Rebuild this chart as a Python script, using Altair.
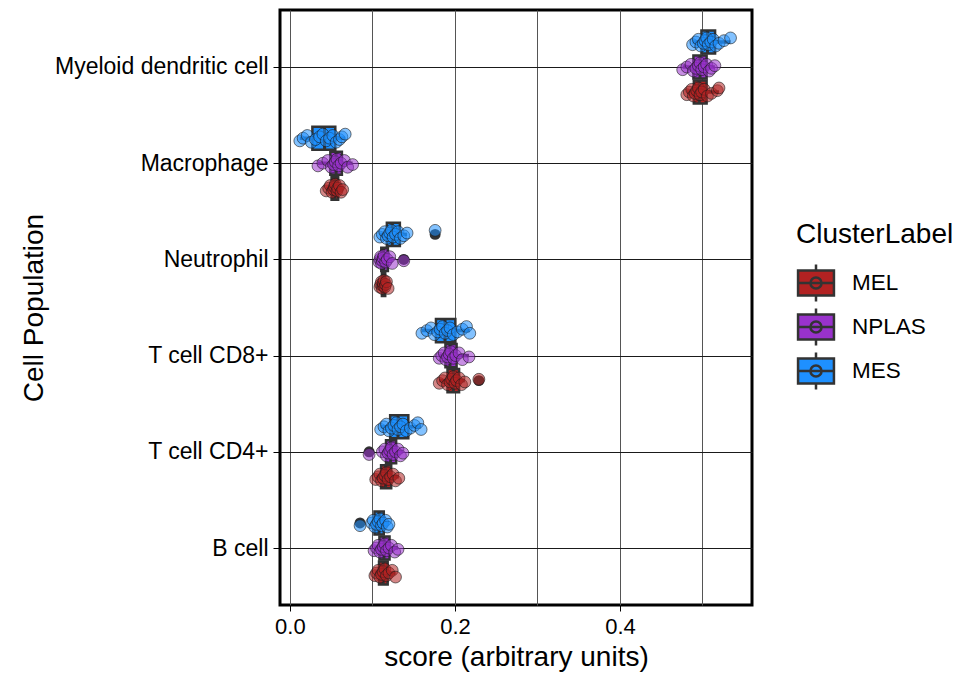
import altair as alt
import pandas as pd

categories = ["Myeloid dendritic cell", "Macrophage", "Neutrophil",
              "T cell CD8+", "T cell CD4+", "B cell"]
clusters = ["MEL", "NPLAS", "MES"]
cluster_colors = ["#B22222", "#9932CC", "#1E90FF"]
dodge_order = ["MES", "NPLAS", "MEL"]  # top to bottom within a category
x_grid_values = [0.0, 0.1, 0.2, 0.3, 0.4, 0.5]

myeloid_mes = [0.488, 0.492, 0.495, 0.498, 0.501, 0.503, 0.505, 0.507, 0.510, 0.513, 0.516, 0.520, 0.526, 0.534]
myeloid_nplas = [0.476, 0.481, 0.486, 0.489, 0.492, 0.495, 0.497, 0.499, 0.502, 0.505, 0.508, 0.511, 0.515]
myeloid_mel = [0.481, 0.484, 0.487, 0.489, 0.491, 0.493, 0.495, 0.497, 0.499, 0.502, 0.506, 0.511, 0.518, 0.520]

macro_mes = [0.012, 0.016, 0.021, 0.026, 0.031, 0.036, 0.040, 0.044, 0.048, 0.052, 0.056, 0.060, 0.063, 0.067]
macro_nplas = [0.034, 0.040, 0.046, 0.050, 0.053, 0.055, 0.057, 0.059, 0.062, 0.066, 0.070, 0.076]
macro_mel = [0.044, 0.047, 0.049, 0.051, 0.053, 0.054, 0.055, 0.057, 0.058, 0.060, 0.062, 0.064]

neutro_mes = [0.109, 0.112, 0.115, 0.117, 0.119, 0.121, 0.123, 0.125, 0.128, 0.131, 0.134, 0.138, 0.142, 0.176]
neutro_nplas = [0.108, 0.109, 0.110, 0.111, 0.112, 0.113, 0.114, 0.116, 0.118, 0.121, 0.124, 0.138]
neutro_mel = [0.109, 0.110, 0.111, 0.112, 0.113, 0.113, 0.114, 0.115, 0.116, 0.117, 0.119]

cd8_mes = [0.160, 0.166, 0.171, 0.175, 0.179, 0.182, 0.185, 0.188, 0.191, 0.194, 0.198, 0.203, 0.209, 0.214, 0.218]
cd8_nplas = [0.181, 0.184, 0.187, 0.189, 0.191, 0.193, 0.195, 0.198, 0.201, 0.205, 0.209, 0.217]
cd8_mel = [0.181, 0.185, 0.188, 0.191, 0.194, 0.196, 0.198, 0.200, 0.202, 0.205, 0.208, 0.212, 0.229]

cd4_mes = [0.110, 0.114, 0.117, 0.120, 0.123, 0.126, 0.129, 0.131, 0.134, 0.137, 0.141, 0.146, 0.151, 0.155, 0.159]
cd4_nplas = [0.096, 0.112, 0.115, 0.117, 0.119, 0.121, 0.123, 0.125, 0.128, 0.131, 0.134, 0.137]
cd4_mel = [0.104, 0.107, 0.109, 0.111, 0.113, 0.115, 0.117, 0.119, 0.122, 0.125, 0.128, 0.132]

bcell_mes = [0.085, 0.099, 0.101, 0.103, 0.105, 0.107, 0.109, 0.111, 0.113, 0.116, 0.118, 0.120]
bcell_nplas = [0.102, 0.105, 0.107, 0.109, 0.111, 0.113, 0.115, 0.117, 0.120, 0.123, 0.127, 0.131]
bcell_mel = [0.103, 0.105, 0.107, 0.109, 0.111, 0.113, 0.115, 0.117, 0.120, 0.124, 0.128]

groups = [
    ("Myeloid dendritic cell", "MES", myeloid_mes), ("Myeloid dendritic cell", "NPLAS", myeloid_nplas),
    ("Myeloid dendritic cell", "MEL", myeloid_mel),
    ("Macrophage", "MES", macro_mes), ("Macrophage", "NPLAS", macro_nplas), ("Macrophage", "MEL", macro_mel),
    ("Neutrophil", "MES", neutro_mes), ("Neutrophil", "NPLAS", neutro_nplas), ("Neutrophil", "MEL", neutro_mel),
    ("T cell CD8+", "MES", cd8_mes), ("T cell CD8+", "NPLAS", cd8_nplas), ("T cell CD8+", "MEL", cd8_mel),
    ("T cell CD4+", "MES", cd4_mes), ("T cell CD4+", "NPLAS", cd4_nplas), ("T cell CD4+", "MEL", cd4_mel),
    ("B cell", "MES", bcell_mes), ("B cell", "NPLAS", bcell_nplas), ("B cell", "MEL", bcell_mel),
]
rows = []
for cell, cl, vals in groups:
    for v in vals:
        rows.append({"cell": cell, "cluster": cl, "score": v})
df = pd.DataFrame(rows)

FONT = "Liberation Sans"
DARK = "#333333"
cat_list = "[" + ",".join("'" + c + "'" for c in categories) + "]"
dodge_list = "[" + ",".join("'" + c + "'" for c in dodge_order) + "]"

x_scale = alt.Scale(domain=[-0.012, 0.56], nice=False, zero=False)
y_scale = alt.Scale(domain=[-0.5925, 5.5925], nice=False, zero=False, reverse=True)
fill_scale = alt.Scale(domain=clusters, range=cluster_colors)

legend_def = alt.Legend(
    title="ClusterLabel", orient="none", legendX=516, legendY=211,
    titleFontSize=28, titleFont=FONT, titleFontWeight="normal", titleColor="black",
    titlePadding=14, labelFontSize=22.5, labelFont=FONT, labelColor="black",
    labelOffset=16, rowPadding=-4,
    symbolType="M-0.97,-0.68H0.97V0.68H-0.97Z M0,-0.68V-1 M0,0.68V1 M-0.97,0H0.97 "
               "M0.3,0A0.3,0.3 0 1 1 -0.3,0A0.3,0.3 0 1 1 0.3,0Z",
    symbolSize=1369, symbolStrokeColor=DARK, symbolStrokeWidth=2.5, symbolOpacity=1,
)

x_axis = alt.Axis(
    title="score (arbitrary units)", values=x_grid_values, format=".1f",
    labelExpr="round(datum.value*10) % 2 == 0 ? datum.label : ''",
    tickColor={"condition": {"test": "round(datum.value*10) % 2 == 0", "value": "black"},
               "value": "transparent"},
    tickSize=6, tickWidth=1, labelPadding=5, labelFontSize=22, labelFont=FONT,
    labelColor="black", titleFontSize=28, titleFont=FONT, titleFontWeight="normal",
    titleColor="black", titlePadding=6, domain=False, grid=True, gridColor="#555555",
    gridWidth=1,
)
y_axis = alt.Axis(
    title="Cell Population", values=list(range(len(categories))),
    labelExpr=cat_list + "[datum.value]", labelLimit=0,
    tickSize=7, tickWidth=1, tickColor="black", labelPadding=5, labelFontSize=23,
    labelFont=FONT, labelColor="black", titleFontSize=28, titleFont=FONT,
    titleFontWeight="normal", titleColor="black", titlePadding=32, domain=False,
    grid=True, gridColor="#1a1a1a", gridWidth=1,
)

base = alt.Chart(df).transform_calculate(
    idx="indexof(" + cat_list + ", datum.cell)",
    dodge="indexof(" + dodge_list + ", datum.cluster) - 1",
).transform_calculate(
    pos="datum.idx + datum.dodge * 0.26",
)

stats = base.transform_joinaggregate(
    q1="q1(score)", q3="q3(score)", med="median(score)", groupby=["cell", "cluster"]
).transform_calculate(
    lo="datum.q1 - 1.5 * (datum.q3 - datum.q1)",
    hi="datum.q3 + 1.5 * (datum.q3 - datum.q1)",
)

inliers = stats.transform_filter(
    "datum.score >= datum.lo && datum.score <= datum.hi"
).transform_aggregate(
    wmin="min(score)", wmax="max(score)", q1="min(q1)", q3="min(q3)", med="min(med)",
    pos="min(pos)", groupby=["cell", "cluster"],
).transform_calculate(
    top="datum.pos - 0.12", bot="datum.pos + 0.12",
)

whiskers = inliers.mark_rule(color=DARK, strokeWidth=3.5).encode(
    x=alt.X("wmin:Q", scale=x_scale, axis=x_axis),
    x2="wmax:Q",
    y=alt.Y("pos:Q", scale=y_scale, axis=y_axis),
)
boxes = inliers.mark_bar(stroke=DARK, strokeWidth=2.5).encode(
    x=alt.X("q1:Q", scale=x_scale, axis=x_axis),
    x2="q3:Q",
    y=alt.Y("top:Q", scale=y_scale, axis=y_axis),
    y2="bot:Q",
    fill=alt.Fill("cluster:N", scale=fill_scale, legend=legend_def),
)
medians = inliers.mark_rule(color=DARK, strokeWidth=3).encode(
    x=alt.X("med:Q", scale=x_scale, axis=x_axis),
    y=alt.Y("top:Q", scale=y_scale, axis=y_axis),
    y2="bot:Q",
)
outliers = stats.transform_filter(
    "datum.score < datum.lo || datum.score > datum.hi"
).mark_circle(color=DARK, opacity=1, size=120).encode(
    x=alt.X("score:Q", scale=x_scale, axis=x_axis),
    y=alt.Y("pos:Q", scale=y_scale, axis=y_axis),
)
points = base.transform_window(
    rn="row_number()", groupby=["cell", "cluster"]
).transform_calculate(
    ypos="datum.pos + ((datum.rn * 5) % 7 - 3) * 0.014",
).mark_circle(size=140, fillOpacity=0.55, stroke="#1a1a1a", strokeWidth=1,
              strokeOpacity=0.6).encode(
    x=alt.X("score:Q", scale=x_scale, axis=x_axis),
    y=alt.Y("ypos:Q", scale=y_scale, axis=y_axis),
    fill=alt.Fill("cluster:N", scale=fill_scale, legend=legend_def),
)

chart = alt.layer(whiskers, boxes, medians, outliers, points).properties(
    width=472, height=595, padding={"left": 20, "top": 10, "right": 5, "bottom": 5},
    background="white",
).configure_view(stroke="black", strokeWidth=3).configure_axis(labelFlush=False)

chart.save("out.html", embed_options={"renderer": "svg", "actions": False})
